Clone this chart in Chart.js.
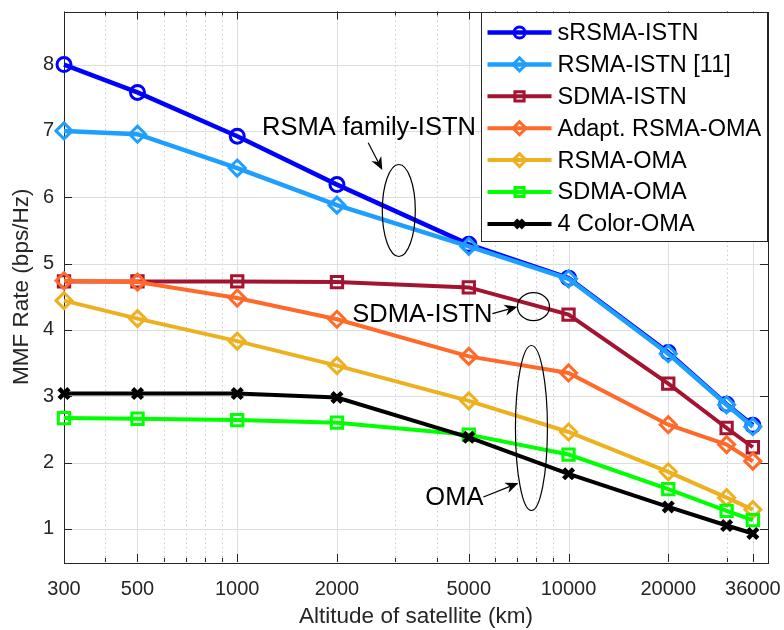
<!DOCTYPE html>
<html>
<head>
<meta charset="utf-8">
<script src="https://cdn.jsdelivr.net/npm/chart.js@4.4.1/dist/chart.umd.min.js"></script>
<style>
    html, body { margin: 0; padding: 0; background: #fff; }
    #contenedor { width: 784px; height: 630px; }
</style>
</head>
<body>
<div id="contenedor"><canvas id="graficoAltitud" width="784" height="630"></canvas></div>
<script>
// altitudes (km) y tasas MMF
const altitudes = [300, 500, 1000, 2000, 5000, 10000, 20000, 30000, 36000];
const srsmaIstn = [8.00, 7.58, 6.92, 6.19, 5.29, 4.78, 3.66, 2.88, 2.56];
const rsmaIstn = [7.00, 6.95, 6.44, 5.88, 5.26, 4.77, 3.64, 2.87, 2.54];
const sdmaIstn = [4.73, 4.73, 4.73, 4.72, 4.64, 4.23, 3.19, 2.52, 2.23];
const adaptRsmaOma = [4.74, 4.72, 4.48, 4.16, 3.60, 3.35, 2.57, 2.27, 2.02];
const rsmaOma = [4.44, 4.17, 3.83, 3.46, 2.93, 2.46, 1.86, 1.47, 1.29];
const sdmaOma = [2.67, 2.66, 2.64, 2.60, 2.42, 2.12, 1.60, 1.27, 1.13];
const colorOma = [3.04, 3.04, 3.04, 2.98, 2.38, 1.83, 1.33, 1.05, 0.93];

const xTickLabels = [300, 500, 1000, 2000, 5000, 10000, 20000, 36000];
const xMinorTicks = [400, 600, 700, 800, 900, 3000, 4000, 6000, 7000, 8000, 9000, 30000];
const yTicks = [1, 2, 3, 4, 5, 6, 7, 8];

const series = [
    { label: 'sRSMA-ISTN', data: srsmaIstn, color: '#0000FF', marker: 'circle', radius: 7, width: 4.5, mw: 3 },
    { label: 'RSMA-ISTN [11]', data: rsmaIstn, color: '#1E9FFF', marker: 'rectRot', radius: 8, width: 4.5, mw: 3 },
    { label: 'SDMA-ISTN', data: sdmaIstn, color: '#A2142F', marker: 'rect', radius: 8, width: 4, mw: 3 },
    { label: 'Adapt. RSMA-OMA', data: adaptRsmaOma, color: '#FF6929', marker: 'rectRot', radius: 8, width: 4, mw: 3 },
    { label: 'RSMA-OMA', data: rsmaOma, color: '#EDB120', marker: 'rectRot', radius: 8, width: 4, mw: 3 },
    { label: 'SDMA-OMA', data: sdmaOma, color: '#00FF00', marker: 'rect', radius: 8, width: 4, mw: 3 },
    { label: '4 Color-OMA', data: colorOma, color: '#000000', marker: 'crossRot', radius: 7, width: 4, mw: 4.5 }
];

// anotaciones en coordenadas de datos: texto, flecha y elipse (semiejes en px)
const notas = [
    { text: 'RSMA family-ISTN', at: [1188, 7.04], from: [2485, 6.82], to: [2741, 6.41], ellipse: [3074, 5.80, 16.5, 46] },
    { text: 'SDMA-ISTN', at: [2224, 4.23], from: [5892, 4.245], to: [7010, 4.35], ellipse: [7837, 4.35, 16, 14] },
    { text: 'OMA', at: [3697, 1.46], from: [5535, 1.48], to: [7058, 1.69], ellipse: [7727, 2.52, 16, 82.5] }
];

const fuente = "'Liberation Sans', Arial, Helvetica, sans-serif";
const gris = '#262626';

function flecha(ctx, x1, y1, x2, y2) {
    const ang = Math.atan2(y2 - y1, x2 - x1);
    const c = Math.cos(ang), s = Math.sin(ang);
    const largo = 13, ancho = 5.5, muesca = 9;
    ctx.beginPath();
    ctx.moveTo(x1, y1);
    ctx.lineTo(x2 - muesca * c, y2 - muesca * s);
    ctx.stroke();
    ctx.beginPath();
    ctx.moveTo(x2, y2);
    ctx.lineTo(x2 - largo * c - ancho * s, y2 - largo * s + ancho * c);
    ctx.lineTo(x2 - muesca * c, y2 - muesca * s);
    ctx.lineTo(x2 - largo * c + ancho * s, y2 - largo * s - ancho * c);
    ctx.closePath();
    ctx.fill();
}

function marcador(ctx, tipo, x, y, r) {
    ctx.beginPath();
    if (tipo === 'circle') {
        ctx.arc(x, y, r, 0, Math.PI * 2);
    } else if (tipo === 'rectRot') {
        ctx.moveTo(x, y - r); ctx.lineTo(x + r, y); ctx.lineTo(x, y + r); ctx.lineTo(x - r, y); ctx.closePath();
    } else if (tipo === 'rect') {
        const h = r * Math.SQRT1_2;
        ctx.rect(x - h, y - h, 2 * h, 2 * h);
    } else {
        const h = r * Math.SQRT1_2;
        ctx.moveTo(x - h, y - h); ctx.lineTo(x + h, y + h);
        ctx.moveTo(x + h, y - h); ctx.lineTo(x - h, y + h);
    }
    ctx.stroke();
}

const ejes = {
    id: 'ejes',
    beforeDatasetsDraw(chart) {
        const { ctx, chartArea: a, scales: { x, y } } = chart;
        ctx.save();
        ctx.lineWidth = 1;
        ctx.strokeStyle = '#cdcdcd';
        ctx.setLineDash([1.5, 3]);
        xMinorTicks.forEach(v => {
            const px = Math.round(x.getPixelForValue(v)) + 0.5;
            ctx.beginPath(); ctx.moveTo(px, a.top); ctx.lineTo(px, a.bottom); ctx.stroke();
        });
        ctx.setLineDash([]);
        ctx.strokeStyle = '#dedede';
        xTickLabels.forEach(v => {
            const px = Math.round(x.getPixelForValue(v)) + 0.5;
            ctx.beginPath(); ctx.moveTo(px, a.top); ctx.lineTo(px, a.bottom); ctx.stroke();
        });
        yTicks.forEach(v => {
            const py = Math.round(y.getPixelForValue(v)) + 0.5;
            ctx.beginPath(); ctx.moveTo(a.left, py); ctx.lineTo(a.right, py); ctx.stroke();
        });
        // caja y marcas hacia dentro
        ctx.strokeStyle = gris;
        ctx.strokeRect(Math.round(a.left) + 0.5, Math.round(a.top) + 0.5, Math.round(a.right - a.left), Math.round(a.bottom - a.top));
        ctx.beginPath();
        xTickLabels.concat(xMinorTicks).forEach(v => {
            const px = Math.round(x.getPixelForValue(v)) + 0.5;
            const t = xTickLabels.includes(v) ? 8 : 4;
            ctx.moveTo(px, a.bottom); ctx.lineTo(px, a.bottom - t);
            ctx.moveTo(px, a.top); ctx.lineTo(px, a.top + t);
        });
        yTicks.forEach(v => {
            const py = Math.round(y.getPixelForValue(v)) + 0.5;
            ctx.moveTo(a.left, py); ctx.lineTo(a.left + 8, py);
            ctx.moveTo(a.right, py); ctx.lineTo(a.right - 8, py);
        });
        ctx.stroke();
        ctx.restore();
    },
    afterDatasetsDraw(chart) {
        const { ctx, scales: { x, y } } = chart;
        ctx.save();
        ctx.strokeStyle = '#000';
        ctx.fillStyle = '#000';
        ctx.lineWidth = 1.2;
        ctx.font = '25.5px ' + fuente;
        ctx.textBaseline = 'middle';
        ctx.textAlign = 'left';
        notas.forEach(n => {
            ctx.fillText(n.text, x.getPixelForValue(n.at[0]), y.getPixelForValue(n.at[1]));
            flecha(ctx, x.getPixelForValue(n.from[0]), y.getPixelForValue(n.from[1]),
                x.getPixelForValue(n.to[0]), y.getPixelForValue(n.to[1]));
            ctx.beginPath();
            ctx.ellipse(x.getPixelForValue(n.ellipse[0]), y.getPixelForValue(n.ellipse[1]),
                n.ellipse[2], n.ellipse[3], 0, 0, Math.PI * 2);
            ctx.stroke();
        });
        ctx.restore();
    },
    afterDraw(chart) {
        // leyenda en la esquina superior derecha
        const { ctx, chartArea: a } = chart;
        const w = 286, h = 229, fila = 31.9;
        const left = Math.round(a.right - w) - 0.5, top = Math.round(a.top) + 0.5;
        ctx.save();
        ctx.fillStyle = '#fff';
        ctx.fillRect(left, top, w, h);
        ctx.strokeStyle = gris;
        ctx.lineWidth = 1;
        ctx.strokeRect(left, top, w, h);
        ctx.font = '23.5px ' + fuente;
        ctx.textBaseline = 'middle';
        ctx.textAlign = 'left';
        series.forEach((s, i) => {
            const cy = top + 20 + i * fila;
            ctx.strokeStyle = s.color;
            ctx.lineWidth = s.width;
            ctx.beginPath(); ctx.moveTo(left + 6, cy); ctx.lineTo(left + 70, cy); ctx.stroke();
            ctx.lineWidth = s.mw;
            marcador(ctx, s.marker, left + 38, cy, s.radius - 1.5);
            ctx.fillStyle = '#000';
            ctx.fillText(s.label, left + 76, cy + 1);
        });
        ctx.restore();
    }
};

const ctx = document.getElementById('graficoAltitud').getContext('2d');
new Chart(ctx, {
    type: 'line',
    data: {
        datasets: series.map((s, i) => ({
            label: s.label,
            data: altitudes.map((a, k) => ({ x: a, y: s.data[k] })),
            borderColor: s.color,
            borderWidth: s.width,
            pointStyle: s.marker,
            pointRadius: s.radius,
            pointBorderWidth: s.mw,
            pointBorderColor: s.color,
            pointBackgroundColor: 'rgba(0,0,0,0)',
            tension: 0,
            clip: false,
            order: series.length - i
        }))
    },
    options: {
        responsive: false,
        animation: false,
        events: [],
        layout: { padding: { left: 0, top: 6, right: 16, bottom: 0 } },
        plugins: {
            legend: { display: false },
            tooltip: { enabled: false }
        },
        scales: {
            x: {
                type: 'logarithmic',
                min: 300,
                max: 40000,
                afterBuildTicks: s => { s.ticks = xTickLabels.map(v => ({ value: v })); },
                afterFit: s => { s.height = 68; s.paddingLeft = 0; s.paddingRight = 0; },
                grid: { display: false, drawTicks: false },
                border: { display: false },
                ticks: {
                    autoSkip: false, maxRotation: 0, minRotation: 0, padding: 15,
                    color: gris, font: { family: fuente, size: 20 },
                    callback: v => String(v)
                },
                title: {
                    display: true, text: 'Altitude of satellite (km)', color: gris,
                    font: { family: fuente, size: 22.5 }, padding: { top: 0, bottom: 0 }
                }
            },
            y: {
                min: 0.5,
                max: 8.8,
                afterBuildTicks: s => { s.ticks = yTicks.map(v => ({ value: v })); },
                afterFit: s => { s.width = 64; s.paddingTop = 0; s.paddingBottom = 0; },
                grid: { display: false, drawTicks: false },
                border: { display: false },
                ticks: {
                    padding: 10, color: gris, font: { family: fuente, size: 20 },
                    callback: v => String(v)
                },
                title: {
                    display: true, text: 'MMF Rate (bps/Hz)', color: gris,
                    font: { family: fuente, size: 22.5 }, padding: { top: 8, bottom: 0 }
                }
            }
        }
    },
    plugins: [ejes]
});
</script>
</body>
</html>
